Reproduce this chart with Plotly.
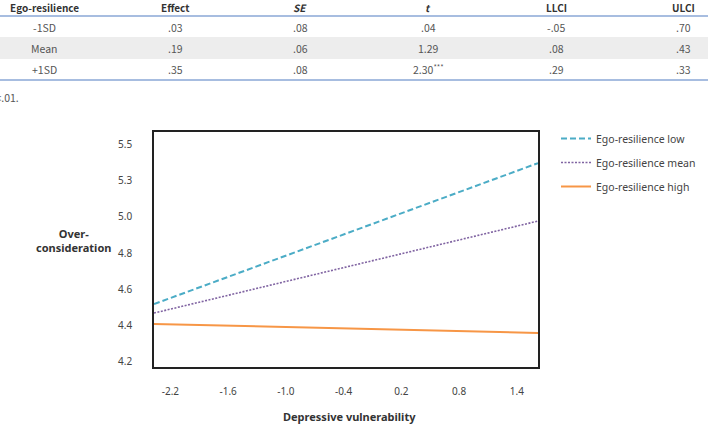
import plotly.graph_objects as go

# ---------------- data ----------------
table_header = ["Ego-resilience", "Effect", "<i>SE</i>", "<i>t</i>", "LLCI", "ULCI"]
row_labels = ["-1SD", "Mean", "+1SD"]
effect = [".03", ".19", ".35"]
se = [".08", ".06", ".08"]
t_vals = [".04", "1.29", "2.30<sup>***</sup>"]
llci = ["-.05", ".08", ".29"]
ulci = [".70", ".43", ".33"]
footnote = "*p<.01."

x_ends = [-2.37, 1.62]
low_y = [4.535, 5.35]
mean_y = [4.483, 5.015]
high_y = [4.42, 4.368]
series_names = ["Ego-resilience low", "Ego-resilience mean", "Ego-resilience high"]

x_tick_vals = [-2.2, -1.6, -1.0, -0.4, 0.2, 0.8, 1.4]
x_tick_text = ["-2.2", "-1.6", "-1.0", "-0.4", "0.2", "0.8", "1.4"]
y_tick_vals = [4.2, 4.41, 4.62, 4.83, 5.04, 5.25, 5.46]
y_tick_text = ["4.2", "4.4", "4.6", "4.8", "5.0", "5.3", "5.5"]

W, H = 708, 432
FONT = "Noto Sans"
TFONT = "Noto Sans CJK KR"

def px(x):
    return x / W

def py(y):
    return (H - y) / H

fig = go.Figure()
styles = [
    dict(color="#4bacc6", width=2, dash="6px,3px"),
    dict(color="#8064a2", width=1.6, dash="2px,1.5px"),
    dict(color="#f79646", width=2, dash="solid"),
]
for i, (name, ys) in enumerate(zip(series_names, [low_y, mean_y, high_y])):
    fig.add_trace(go.Scatter(x=x_ends, y=ys, mode="lines", name=name,
                             line=styles[i], legendgroup=f"g{i}"))

fig.update_layout(
    width=W, height=H,
    margin=dict(l=0, r=0, t=0, b=0),
    paper_bgcolor="white", plot_bgcolor="white",
    font=dict(family=FONT, size=10, color="#444"),
    showlegend=True,
    legend=dict(x=px(556), y=py(124), xanchor="left", yanchor="top",
                font=dict(family=FONT, size=10.5, color="#444"),
                tracegroupgap=5, itemwidth=30, bgcolor="rgba(0,0,0,0)"),
    xaxis=dict(domain=[px(154), px(538)], range=[-2.37, 1.62],
               tickvals=x_tick_vals, ticktext=x_tick_text,
               showgrid=False, zeroline=False, showline=True, mirror=True,
               linecolor="#222", linewidth=1.6, ticks="", ticklabelstandoff=14,
               tickfont=dict(size=10, color="#444")),
    yaxis=dict(domain=[py(367), py(132)], range=[4.171, 5.53],
               tickvals=y_tick_vals, ticktext=y_tick_text,
               showgrid=False, zeroline=False, showline=True, mirror=True,
               linecolor="#222", linewidth=1.6, ticks="", ticklabelstandoff=18,
               tickfont=dict(size=10, color="#444")),
)

def note(x, y, text, size=10.5, color="#555", family=TFONT, xanchor="center"):
    fig.add_annotation(x=px(x), y=py(y), xref="paper", yref="paper", text=text,
                       showarrow=False, xanchor=xanchor, yanchor="middle",
                       font=dict(family=family, size=size, color=color))

# axis titles
fig.add_annotation(x=px(73), y=py(240), xref="paper", yref="paper",
                   text="<b>Over-<br>consideration</b>", showarrow=False,
                   xanchor="center", yanchor="middle",
                   font=dict(family=FONT, size=11, color="#333"), align="center")
note(349, 416, "<b>Depressive vulnerability</b>", size=11, color="#333", family=FONT)

# ---------------- table ----------------
shapes = []
shapes.append(dict(type="rect", xref="paper", yref="paper", x0=0, x1=1,
                   y0=py(59), y1=py(37), fillcolor="#ededed", line=dict(width=0), layer="below"))
shapes.append(dict(type="line", xref="paper", yref="paper", x0=0, x1=1,
                   y0=py(16), y1=py(16), line=dict(color="#a7bde0", width=2)))
shapes.append(dict(type="line", xref="paper", yref="paper", x0=0, x1=1,
                   y0=py(80), y1=py(80), line=dict(color="#a7bde0", width=2)))
fig.update_layout(shapes=shapes)

col_x = [44, 175, 300, 428, 556, 683]
for cx, h in zip(col_x, table_header):
    note(cx, 8, f"<b>{h}</b>", size=10, color="#333")
row_y = [27, 48, 69]
cols = [row_labels, effect, se, t_vals, llci, ulci]
for cx, col in zip(col_x, cols):
    for ry, v in zip(row_y, col):
        note(cx, ry, v)

note(21, 97, footnote, xanchor="right")

fig.write_html("out.html")
